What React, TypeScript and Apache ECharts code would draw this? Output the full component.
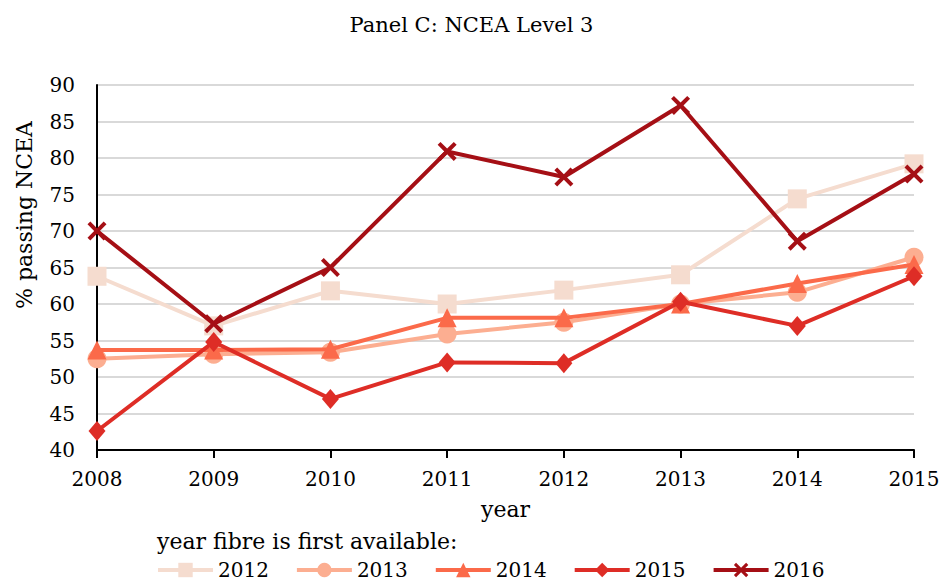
import React, { useEffect, useRef } from "react";
import * as echarts from "echarts";

const years = ["2008", "2009", "2010", "2011", "2012", "2013", "2014", "2015"];
const yTicks = [40, 45, 50, 55, 60, 65, 70, 75, 80, 85, 90];

const s2012 = [63.8, 57.0, 61.8, 60.0, 61.9, 64.0, 74.4, 79.2];
const s2013 = [52.5, 53.1, 53.4, 55.9, 57.5, 60.0, 61.6, 66.4];
const s2014 = [53.7, 53.7, 53.8, 58.1, 58.1, 60.0, 62.8, 65.4];
const s2015 = [42.6, 54.8, 47.0, 52.0, 51.9, 60.3, 57.0, 63.8];
const s2016 = [70.0, 57.3, 65.0, 80.9, 77.4, 87.2, 68.6, 77.8];

const seriesNames = ["2012", "2013", "2014", "2015", "2016"];
const seriesColors = ["#F5DCCF", "#FCAE91", "#FB6A4A", "#DE2D26", "#A50F15"];

const FONT = "DejaVu Serif";
const X_PATH =
  "path://M3,0 L10,7 L17,0 L20,3 L13,10 L20,17 L17,20 L10,13 L3,20 L0,17 L7,10 L0,3 Z";

export default function App() {
  const ref = useRef<HTMLDivElement>(null);
  useEffect(() => {
    document.body.style.margin = "0";
    if (!ref.current) return;
    const chart = echarts.init(ref.current, undefined, { renderer: "svg" });
    const data = [s2012, s2013, s2014, s2015, s2016];
    const symbols = ["rect", "circle", "triangle", "diamond", X_PATH];
    const sizes = [19, 19, 19, [17, 20], 19];
    chart.setOption({
      animation: false,
      textStyle: { fontFamily: FONT },
      title: {
        text: "Panel C: NCEA Level 3",
        left: "center",
        top: 9,
        textStyle: { fontFamily: FONT, fontSize: 21, fontWeight: "normal", color: "#000" },
      },
      grid: { left: 97, right: 29, top: 85, bottom: 131, containLabel: false },
      legend: {
        left: 156,
        top: 560,
        padding: 0,
        itemWidth: 55,
        itemHeight: 18,
        itemGap: 26,
        lineStyle: { width: 4 },
        textStyle: { fontFamily: FONT, fontSize: 20, color: "#000" },
        data: seriesNames,
      },
      graphic: [
        {
          type: "text",
          x: 157,
          y: 541,
          style: {
            text: "year fibre is first available:",
            font: `22px '${FONT}'`,
            fill: "#000",
            verticalAlign: "middle",
          },
        },
        {
          type: "text",
          x: 24,
          y: 215,
          rotation: Math.PI / 2,
          style: {
            text: "% passing NCEA",
            font: `22px '${FONT}'`,
            fill: "#000",
            align: "center",
            verticalAlign: "middle",
          },
        },
      ],
      xAxis: {
        type: "category",
        data: years,
        boundaryGap: false,
        name: "year",
        nameLocation: "middle",
        nameGap: 48,
        nameTextStyle: { fontFamily: FONT, fontSize: 22, color: "#000" },
        axisLine: { lineStyle: { color: "#000", width: 2 } },
        axisTick: { show: true, length: 8, lineStyle: { color: "#000", width: 2 } },
        axisLabel: { fontFamily: FONT, fontSize: 20, color: "#000", margin: 19 },
        splitLine: { show: false },
      },
      yAxis: {
        type: "value",
        min: yTicks[0],
        max: yTicks[yTicks.length - 1],
        interval: 5,
        axisLine: { show: true, lineStyle: { color: "#000", width: 2 } },
        axisTick: { show: false },
        axisLabel: { fontFamily: FONT, fontSize: 20, color: "#000", margin: 22 },
        splitLine: { show: true, lineStyle: { color: "#D9D9D9", width: 2 } },
      },
      series: seriesNames.map((name, i) => ({
        name,
        type: "line",
        data: data[i],
        symbol: symbols[i],
        symbolSize: sizes[i],
        showAllSymbol: true,
        lineStyle: { color: seriesColors[i], width: 4 },
        itemStyle: { color: seriesColors[i], borderWidth: 0 },
        color: seriesColors[i],
        z: 2 + i,
      })),
    });
    return () => chart.dispose();
  }, []);
  return <div ref={ref} style={{ width: 943, height: 581 }} />;
}
